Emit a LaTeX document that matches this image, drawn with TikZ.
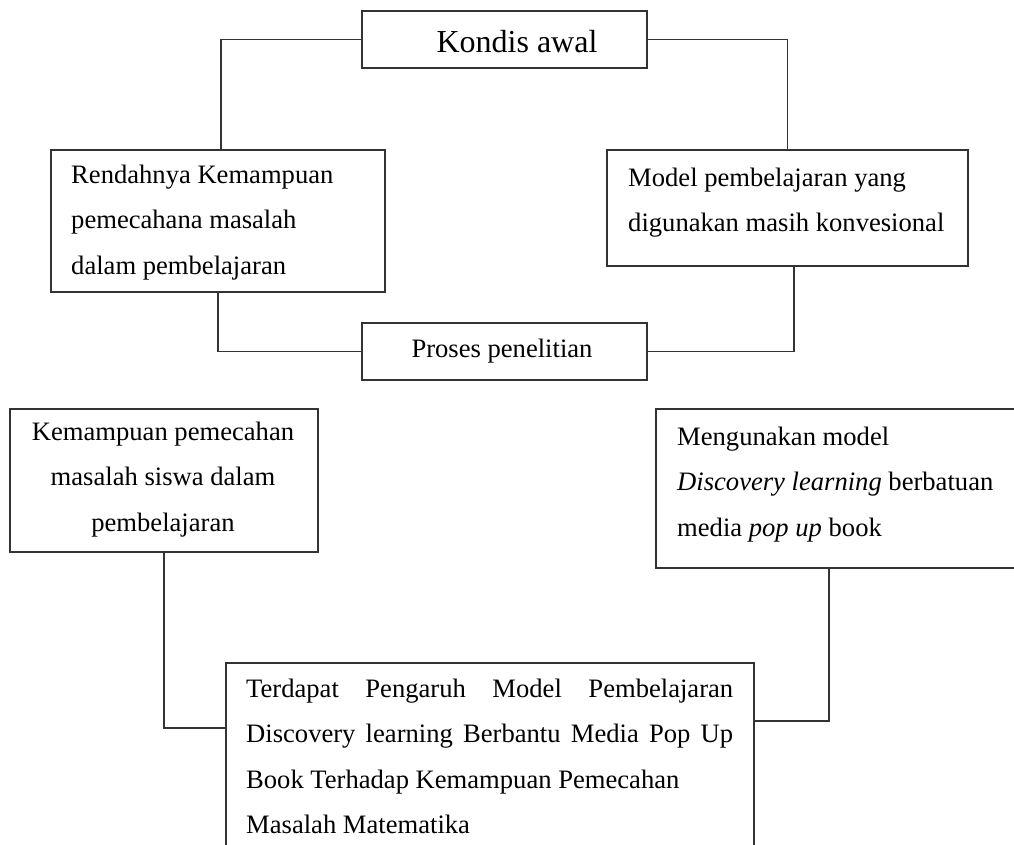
\documentclass[tikz,border=0pt]{standalone}
\usepackage{fontspec}
\setmainfont{Liberation Serif}
\newcommand{\tophold}{\rule{0pt}{20pt}}
\begin{document}
\begin{tikzpicture}[x=1pt,y=-1pt,
  boxshape/.style={draw=black!80,line width=1.5pt,inner sep=0pt,anchor=north west},
  txt/.style={inner sep=0pt,font=\fontsize{26.6}{45.5}\selectfont},
  conn/.style={draw=black!80,line width=1.5pt}]
\useasboundingbox (0,0) rectangle (1014,844);
\clip (0,0) rectangle (1014,844);
% boxes
\node[boxshape,minimum width=285pt,minimum height=57pt] (kondis) at (361,10) {};
\node[boxshape,minimum width=334pt,minimum height=142pt] (rend) at (50,149) {};
\node[boxshape,minimum width=361pt,minimum height=116pt] (model) at (606,149) {};
\node[boxshape,minimum width=285pt,minimum height=57pt] (proses) at (361,322) {};
\node[boxshape,minimum width=308pt,minimum height=143pt] (kem) at (9,408) {};
\node[boxshape,minimum width=365pt,minimum height=159pt] (meng) at (655,408) {};
\node[boxshape,minimum width=528pt,minimum height=208pt] (bot) at (225,662) {};
% texts
\node[inner sep=0pt,anchor=base,font=\fontsize{32}{38}\selectfont] (tkondis) at (517,52) {Kondis awal};
\node[txt,anchor=north west,align=left] (trend) at (71,163) {\tophold Rendahnya Kemampuan\\pemecahana masalah\\dalam pembelajaran};
\node[txt,anchor=north west,align=left] (tmodel) at (628,166) {\tophold Model pembelajaran yang\\digunakan masih konvesional};
\node[txt,anchor=base] (tproses) at (502,357) {Proses penelitian};
\node[txt,anchor=north,align=center] (tkem) at (163,420) {\tophold Kemampuan pemecahan\\masalah siswa dalam\\pembelajaran};
\node[txt,anchor=north west,align=left] (tmeng) at (677,425) {\tophold Mengunakan model\\\textit{Discovery learning} berbatuan\\media \textit{pop up} book};
\node[txt,anchor=north west,text width=487pt,align=justify] (tbot) at (246,677) {\tophold Terdapat Pengaruh Model Pembelajaran\linebreak Discovery learning Berbantu Media Pop Up\linebreak Book Terhadap Kemampuan Pemecahan\\Masalah Matematika};
% connectors
\draw[conn] (kondis.west) -| ([xshift=3pt]rend.north);
\draw[conn] (kondis.east) -| (model.north);
\draw[conn] (rend.south) |- (proses.west);
\draw[conn] ([xshift=6.5pt]model.south) |- (proses.east);
\draw[conn] (kem.south) |- ([yshift=-66pt]bot.north west);
\draw[conn] ([xshift=-9.5pt]meng.south) |- ([yshift=-59pt]bot.north east);
\end{tikzpicture}
\end{document}
